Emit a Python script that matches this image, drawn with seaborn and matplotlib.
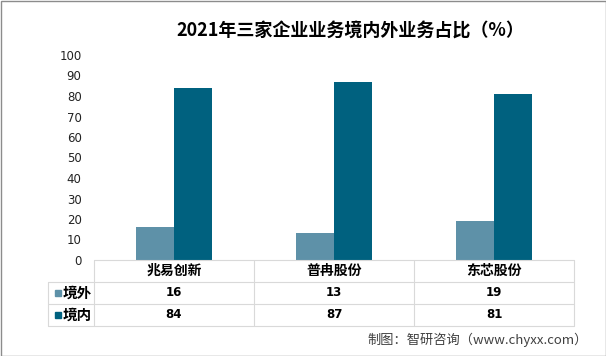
import matplotlib
matplotlib.use('Agg')
import matplotlib.pyplot as plt
from matplotlib.patches import Rectangle
import seaborn as sns
import pandas as pd

# chart data
companies = ['兆易创新', '普冉股份', '东芯股份']
series_names = ['境外', '境内']
overseas = [16, 13, 19]
domestic = [84, 87, 81]
colors = ['#5E91A8', '#00617F']
yticks = list(range(0, 101, 10))

df = pd.DataFrame({
    '公司': companies * 2,
    '区域': [series_names[0]] * len(companies) + [series_names[1]] * len(companies),
    '占比': overseas + domestic,
})

sns.set_theme(style='white')
plt.rcParams['font.family'] = ['Noto Sans CJK SC', 'DejaVu Sans']

W, H = 606, 356
fig = plt.figure(figsize=(W / 100, H / 100), dpi=100)


def px(x0, y0, x1, y1):
    # pixel box (top-left origin) -> figure fraction rect
    return [x0 / W, 1 - y1 / H, (x1 - x0) / W, (y1 - y0) / H]


# 1. bars
ax = fig.add_axes(px(94, 55, 574, 260))
sns.barplot(data=df, x='公司', y='占比', hue='区域', palette=colors,
            width=0.475, gap=0, saturation=1, linewidth=0, ax=ax, legend=False)
ax.set_xlim(-0.5, len(companies) - 0.5)
ax.set_ylim(0, 100)
ax.set_yticks(yticks)
ax.set_yticklabels([str(t) for t in yticks], family='DejaVu Sans')
ax.tick_params(axis='y', length=0, pad=9, labelsize=8.5, labelcolor='#222222')
ax.set_xticks([])
ax.set_xlabel('')
ax.set_ylabel('')
for s in ax.spines.values():
    s.set_visible(False)

# 2. data table below the plot (pixel coordinates)
tab = fig.add_axes([0, 0, 1, 1])
tab.set_xlim(0, W)
tab.set_ylim(H, 0)
tab.axis('off')

fig.canvas.draw()
bounds = [ax.transData.transform((b - 0.5, 0))[0] for b in range(len(companies) + 1)]
centers = [ax.transData.transform((i, 0))[0] for i in range(len(companies))]
left = bounds[0]
right = bounds[-1]
rows_y = [260, 282, 304, 326]
leg_x = 48
grid_c = '#D9D9D9'

tab.plot([left, right], [rows_y[0]] * 2, color=grid_c, lw=0.8)
for y in rows_y[1:]:
    tab.plot([leg_x, right], [y, y], color=grid_c, lw=0.8)
tab.plot([leg_x, leg_x], [rows_y[1], rows_y[-1]], color=grid_c, lw=0.8)
for x in bounds:
    tab.plot([x, x], [rows_y[0], rows_y[-1]], color=grid_c, lw=0.8)

for cx, name in zip(centers, companies):
    tab.text(cx, (rows_y[0] + rows_y[1]) / 2, name, ha='center', va='center',
             fontsize=10, fontweight='bold', color='black')

for r, (label, vals, col) in enumerate(zip(series_names, [overseas, domestic], colors)):
    yc = (rows_y[r + 1] + rows_y[r + 2]) / 2
    tab.add_patch(Rectangle((55, yc - 3), 6, 6, color=col))
    tab.text(63, yc, label, ha='left', va='center', fontsize=10.5,
             fontweight='bold', color='black')
    for cx, v in zip(centers, vals):
        tab.text(cx, yc, str(v), ha='center', va='center', fontsize=8.5,
                 fontweight='bold', family='DejaVu Sans', color='black')

# 3. title, source, border
fig.text(350 / W, 1 - 31 / H, '2021年三家企业业务境内外业务占比（%）',
         ha='center', va='center', fontsize=13, fontweight='bold', color='black')
fig.text(588 / W, 1 - 340 / H, '制图：智研咨询（www.chyxx.com）',
         ha='right', va='center', fontsize=9.5, color='#404040')
fig.patches.append(Rectangle((0.5 / W, 0.5 / H), (W - 1) / W, (H - 1) / H,
                             transform=fig.transFigure, fill=False,
                             edgecolor='#8C8C8C', lw=1))

fig.savefig('out.png', dpi=100)
